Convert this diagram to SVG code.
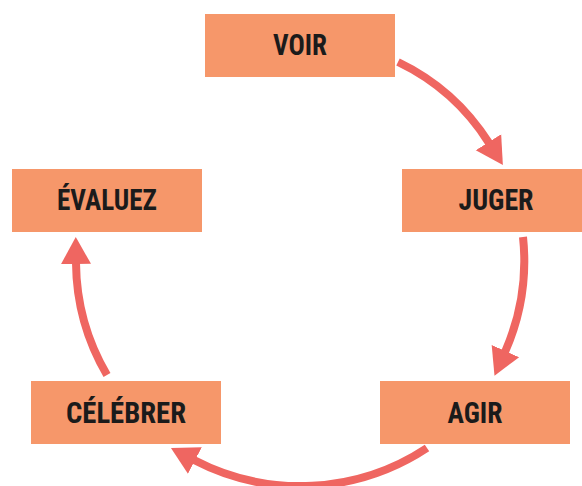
<svg xmlns="http://www.w3.org/2000/svg" width="582" height="486" viewBox="0 0 582 486">
  <style>
    .box { fill: #F6976A; }
    .label { font-family: "Roboto Condensed", "Liberation Sans Narrow", "Roboto", "Liberation Sans", sans-serif; font-weight: 700; font-size: 29px; fill: #1b1b1b; text-anchor: middle; }
    .flow { fill: none; stroke: #EF6661; stroke-width: 8; stroke-linecap: butt; marker-end: url(#head); }
  </style>
  <defs>
    <marker id="head" markerUnits="userSpaceOnUse" markerWidth="30" markerHeight="32" viewBox="0 0 30 32" refX="1" refY="16" orient="auto">
      <path d="M0,1 L27,16 L0,31 z" fill="#EF6661"/>
    </marker>
  </defs>
  <rect width="582" height="486" fill="#ffffff"/>

  <!-- cycle arrows -->
  <g id="connectors">
    <path class="flow" d="M398,62 A220,220 0 0 1 489,143"/>
    <path class="flow" d="M523,237 A226,226 0 0 1 505,352"/>
    <path class="flow" d="M427,448 A230,230 0 0 1 194,460"/>
    <path class="flow" d="M107,375 A225,225 0 0 1 76,263"/>
  </g>

  <g id="voir">
    <rect class="box" x="205" y="14" width="190" height="63"/>
    <text class="label" x="300" y="55" textLength="54" lengthAdjust="spacingAndGlyphs">VOIR</text>
  </g>
  <g id="juger">
    <rect class="box" x="402" y="169" width="190" height="63"/>
    <text class="label" x="496" y="210" textLength="75" lengthAdjust="spacingAndGlyphs">JUGER</text>
  </g>
  <g id="agir">
    <rect class="box" x="380" y="381" width="190" height="63"/>
    <text class="label" x="475" y="423" textLength="55" lengthAdjust="spacingAndGlyphs">AGIR</text>
  </g>
  <g id="celebrer">
    <rect class="box" x="31" y="381" width="190" height="63"/>
    <text class="label" x="126" y="423" textLength="120" lengthAdjust="spacingAndGlyphs">CÉLÉBRER</text>
  </g>
  <g id="evaluez">
    <rect class="box" x="12" y="169" width="190" height="63"/>
    <text class="label" x="107" y="210" textLength="100" lengthAdjust="spacingAndGlyphs">ÉVALUEZ</text>
  </g>
</svg>
